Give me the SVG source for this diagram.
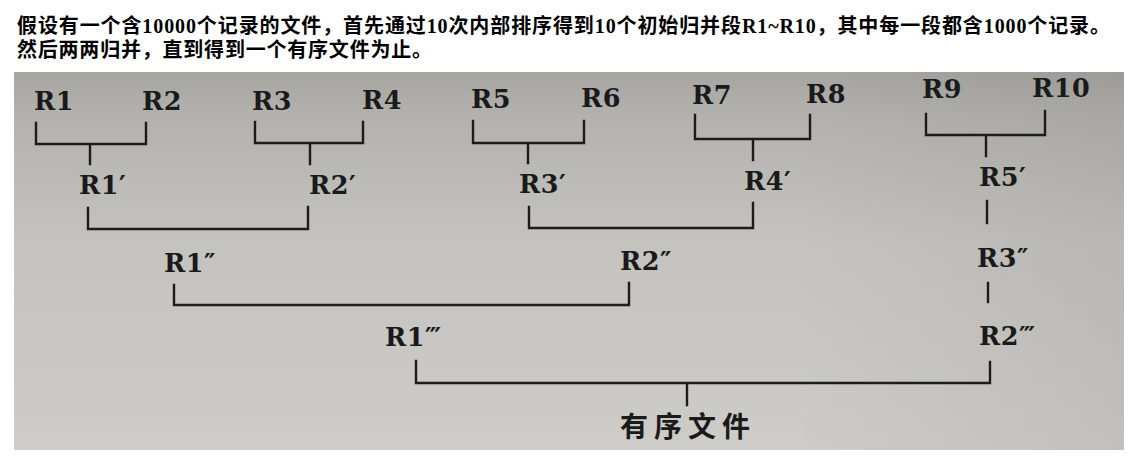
<svg xmlns="http://www.w3.org/2000/svg" width="1146" height="459" viewBox="0 0 1146 459">
  <defs>
    <linearGradient id="paper" x1="0" y1="0" x2="0" y2="1">
      <stop offset="0" stop-color="#a6a5a1"/>
      <stop offset="0.12" stop-color="#b3b2ae"/>
      <stop offset="0.45" stop-color="#c4c3bf"/>
      <stop offset="1" stop-color="#cdccc8"/>
    </linearGradient>
    <linearGradient id="shade" x1="0" y1="0" x2="1" y2="0">
      <stop offset="0" stop-color="#000" stop-opacity="0"/>
      <stop offset="0.7" stop-color="#000" stop-opacity="0"/>
      <stop offset="1" stop-color="#000" stop-opacity="0.06"/>
    </linearGradient>
    <style>
      .hdr { font-family: "Liberation Serif", "Noto Sans CJK SC", serif; font-weight: bold; font-size: 20px; fill: #000; }
      .lbl { font-family: "DejaVu Serif", "Liberation Serif", serif; font-weight: bold; font-size: 25.5px; letter-spacing: 0.5px; fill: #1a1a1a; }
      .res { font-family: "Noto Sans CJK SC", sans-serif; font-weight: bold; font-size: 28px; letter-spacing: 6px; fill: #1a1a1a; }
      .ln { fill: none; stroke: #1c1c1c; stroke-width: 2.4; stroke-linecap: square; stroke-linejoin: miter; }
    </style>
  </defs>

  <rect x="0" y="0" width="1146" height="459" fill="#ffffff"/>

  <g id="header">
    <text class="hdr" x="17" y="33" textLength="1093" lengthAdjust="spacing">假设有一个含10000个记录的文件，首先通过10次内部排序得到10个初始归并段R1~R10，其中每一段都含1000个记录。</text>
    <text class="hdr" x="17" y="57" textLength="415" lengthAdjust="spacing">然后两两归并，直到得到一个有序文件为止。</text>
  </g>

  <g id="photo">
    <rect x="14" y="72" width="1110" height="378" fill="url(#paper)"/>
    <rect x="14" y="72" width="1110" height="378" fill="url(#shade)"/>
  </g>

  <g id="connectors">
    <path class="ln" d="M36,123 V144 H146 V123 M90,144 V164"/>
    <path class="ln" d="M255,122 V143 H363 V122 M310,143 V164"/>
    <path class="ln" d="M473,121 V143 H584 V121 M528,143 V163"/>
    <path class="ln" d="M695,115 V139 H810 V115 M753,139 V160"/>
    <path class="ln" d="M926,114 V135 H1045 V111 M986,135 V156"/>
    <path class="ln" d="M88,208 V229 H308 V207"/>
    <path class="ln" d="M529,207 V228 H753 V203"/>
    <path class="ln" d="M987,201 V223"/>
    <path class="ln" d="M174,285 V305 H629 V283"/>
    <path class="ln" d="M988,283 V302"/>
    <path class="ln" d="M416,361 V383 H990 V362 M687,383 V405"/>
  </g>

  <g id="n-R1"><text class="lbl" x="34" y="110">R1</text></g>
  <g id="n-R2"><text class="lbl" x="142" y="110">R2</text></g>
  <g id="n-R3"><text class="lbl" x="252" y="110">R3</text></g>
  <g id="n-R4"><text class="lbl" x="362" y="109">R4</text></g>
  <g id="n-R5"><text class="lbl" x="471" y="108">R5</text></g>
  <g id="n-R6"><text class="lbl" x="581" y="107">R6</text></g>
  <g id="n-R7"><text class="lbl" x="692" y="104">R7</text></g>
  <g id="n-R8"><text class="lbl" x="806" y="103">R8</text></g>
  <g id="n-R9"><text class="lbl" x="922" y="98">R9</text></g>
  <g id="n-R10"><text class="lbl" x="1032" y="97">R10</text></g>

  <g id="n-R1p"><text class="lbl" x="79" y="194">R1′</text></g>
  <g id="n-R2p"><text class="lbl" x="309" y="194">R2′</text></g>
  <g id="n-R3p"><text class="lbl" x="519" y="193">R3′</text></g>
  <g id="n-R4p"><text class="lbl" x="744" y="190">R4′</text></g>
  <g id="n-R5p"><text class="lbl" x="979" y="186">R5′</text></g>

  <g id="n-R1pp"><text class="lbl" x="164" y="272">R1″</text></g>
  <g id="n-R2pp"><text class="lbl" x="620" y="270">R2″</text></g>
  <g id="n-R3pp"><text class="lbl" x="977" y="267">R3″</text></g>

  <g id="n-R1ppp"><text class="lbl" x="385" y="346">R1‴</text></g>
  <g id="n-R2ppp"><text class="lbl" x="979" y="345">R2‴</text></g>

  <g id="n-result"><text class="res" x="620" y="437">有序文件</text></g>
</svg>
